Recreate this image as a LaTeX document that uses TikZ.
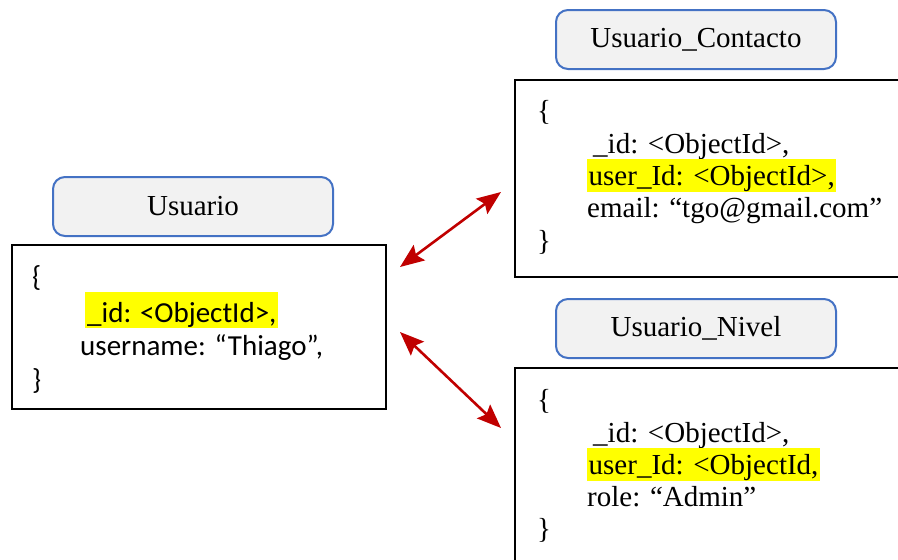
\documentclass[tikz,border=0pt]{standalone}
\usepackage{fontspec}
\setmainfont{Liberation Serif}
\newfontfamily\bodysans{Carlito}
\usetikzlibrary{arrows.meta}
\definecolor{titlefill}{HTML}{F2F2F2}
\definecolor{titleline}{HTML}{4472C4}
\definecolor{linkred}{HTML}{C00000}
\definecolor{hilite}{HTML}{FFFF00}
\begin{document}
\begin{tikzpicture}[x=1pt,y=-1pt,
  titlebox/.style={draw=titleline, line width=2pt, fill=titlefill,
    rounded corners=12pt, minimum width=280pt, minimum height=59pt,
    inner sep=0pt, font=\fontsize{29}{32}\selectfont},
  docbox/.style={draw=black, line width=1.6pt, inner sep=0pt},
  field/.style={anchor=base west, inner sep=0pt, font=\fontsize{29}{32}\selectfont},
  sansfield/.style={field, font=\fontsize{29}{32}\bodysans},
  marked/.style={fill=hilite, inner xsep=1.5pt, inner ysep=0pt,
    text height=26pt, text depth=7pt},
  link/.style={draw=linkred, line width=2.6pt,
    {Stealth[length=24pt,width=19pt,inset=4pt]}-{Stealth[length=24pt,width=19pt,inset=4pt]}}]
  \useasboundingbox (0,0) rectangle (898,560);
  \clip (0,0) rectangle (898,560);

  % Usuario collection
  \node[titlebox] (usrTitle) at (193,206.5) {Usuario};
  \node[docbox, minimum width=374pt, minimum height=164pt] (usrDoc) at (199,327) {};
  \node[sansfield] (usrOpen) at (32,286) {\{};
  \node[sansfield, marked, text height=30pt, text depth=6pt, inner xsep=2pt] (usrId) at (85,322) {\_id: <ObjectId>,};
  \node[sansfield] (usrName) at (80,355) {username: “Thiago”,};
  \node[sansfield] (usrClose) at (32,389) {\}};

  % Usuario_Contacto collection
  \node[titlebox] (ctTitle) at (696,39.5) {Usuario\_Contacto};
  \node[docbox, minimum width=400pt, minimum height=197pt] (ctDoc) at (715,178.5) {};
  \node[field] (ctOpen) at (537,120) {\{};
  \node[field] (ctId) at (593,153) {\_id: <ObjectId>,};
  \node[field, marked] (ctUser) at (587,185) {user\_Id: <ObjectId>,};
  \node[field] (ctMail) at (587,217) {email: “tgo@gmail.com”};
  \node[field] (ctClose) at (537,250) {\}};

  % Usuario_Nivel collection
  \node[titlebox] (nvTitle) at (696,328.5) {Usuario\_Nivel};
  \node[docbox, minimum width=400pt, minimum height=222pt] (nvDoc) at (715,479) {};
  \node[field] (nvOpen) at (537,409) {\{};
  \node[field] (nvId) at (593,442) {\_id: <ObjectId>,};
  \node[field, marked] (nvUser) at (587,474) {user\_Id: <ObjectId,};
  \node[field] (nvRole) at (587,506) {role: “Admin”};
  \node[field] (nvClose) at (537,538) {\}};

  % references between documents
  \coordinate (lnkA1) at (400,267);
  \coordinate (lnkA2) at (501,192);
  \coordinate (lnkB1) at (400,332);
  \coordinate (lnkB2) at (501,428);
  \draw[link] (lnkA1) -- (lnkA2);
  \draw[link] (lnkB1) -- (lnkB2);
\end{tikzpicture}
\end{document}
